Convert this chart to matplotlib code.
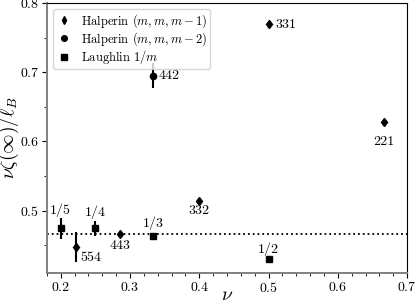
import matplotlib
matplotlib.use("Agg")
import matplotlib.pyplot as plt
from matplotlib.ticker import MultipleLocator

plt.rcParams['font.family'] = 'serif'
plt.rcParams['font.serif'] = ['cmr10']
plt.rcParams['mathtext.fontset'] = 'cm'
plt.rcParams['axes.formatter.use_mathtext'] = True

# Halperin (m,m,m-1)
nu_h1 = [2/4, 2/3, 2/5, 2/7, 2/9]
y_h1 = [0.769, 0.628, 0.5135, 0.467, 0.4475]
err_h1 = [0.0, 0.0, 0.0, 0.0, 0.0215]
lab_h1 = ['331', '221', '332', '443', '554']

# Halperin (m,m,m-2)
nu_h2 = [1/3]
y_h2 = [0.695]
err_h2 = [0.018]
lab_h2 = ['442']

# Laughlin 1/m
nu_l = [1/5, 1/4, 1/3, 1/2]
y_l = [0.4745, 0.4745, 0.464, 0.4305]
err_l = [0.0155, 0.011, 0.0, 0.0]
lab_l = ['1/5', '1/4', '1/3', '1/2']

y_ref = 0.4658

# label offsets (pixels) and alignment
off_h1 = [(7, 0, 'left', 'center'), (0, -20, 'center', 'center'), (0, -10, 'center', 'center'),
          (0, -12, 'center', 'center'), (4, -11, 'left', 'center')]
off_h2 = [(5, 0, 'left', 'center')]
off_l = [(0, 18, 'center', 'center'), (0, 16, 'center', 'center'), (0, 12, 'center', 'center'),
         (0, 10, 'center', 'center')]

fig = plt.figure(figsize=(4.15, 3.03), dpi=100)
ax = fig.add_axes([0.113, 0.099, 0.868, 0.891])

ax.axhline(y_ref, color='k', ls=':', lw=1.3, zorder=1)

ax.errorbar(nu_h1, y_h1, yerr=err_h1, fmt='none', ecolor='k', elinewidth=1.5)
ax.errorbar(nu_h2, y_h2, yerr=err_h2, fmt='none', ecolor='k', elinewidth=1.5)
ax.errorbar(nu_l, y_l, yerr=err_l, fmt='none', ecolor='k', elinewidth=1.5)
ax.plot(nu_h1, y_h1, 'd', color='k', ms=4.5, ls='none', label=r'Halperin $(m,m,m-1)$')
ax.plot(nu_h2, y_h2, 'o', color='k', ms=4.5, ls='none', label=r'Halperin $(m,m,m-2)$')
ax.plot(nu_l, y_l, 's', color='k', ms=4.5, ls='none', label=r'Laughlin $1/m$')

for xs, ys, labs, offs in [(nu_h1, y_h1, lab_h1, off_h1), (nu_h2, y_h2, lab_h2, off_h2),
                           (nu_l, y_l, lab_l, off_l)]:
    for x, y, t, (dx, dy, ha, va) in zip(xs, ys, labs, offs):
        ax.annotate(t, (x, y), xytext=(dx, dy), textcoords='offset pixels',
                    ha=ha, va=va, fontsize=10)

ax.set_xlim(0.18, 0.7)
ax.set_ylim(0.41, 0.8)
ax.xaxis.set_major_locator(MultipleLocator(0.1))
ax.xaxis.set_minor_locator(MultipleLocator(0.02))
ax.yaxis.set_major_locator(MultipleLocator(0.1))
ax.yaxis.set_minor_locator(MultipleLocator(0.05))
ax.tick_params(labelsize=10, pad=2)
ax.set_xlabel(r'$\nu$', fontsize=14)
ax.set_ylabel(r'$\nu\zeta(\infty)/\ell_B$', fontsize=14)
ax.xaxis.set_label_coords(0.5, -0.05)
ax.yaxis.set_label_coords(-0.073, 0.5)

for s in ['left', 'bottom']:
    ax.spines[s].set_color('#808080')
    ax.spines[s].set_linewidth(1.4)

ax.legend(loc='upper left', fontsize=9, borderaxespad=0.5, handletextpad=0.8,
          handlelength=1.2, labelspacing=0.0, markerscale=0.9, borderpad=0.25)

fig.savefig('out.png', dpi=100)
